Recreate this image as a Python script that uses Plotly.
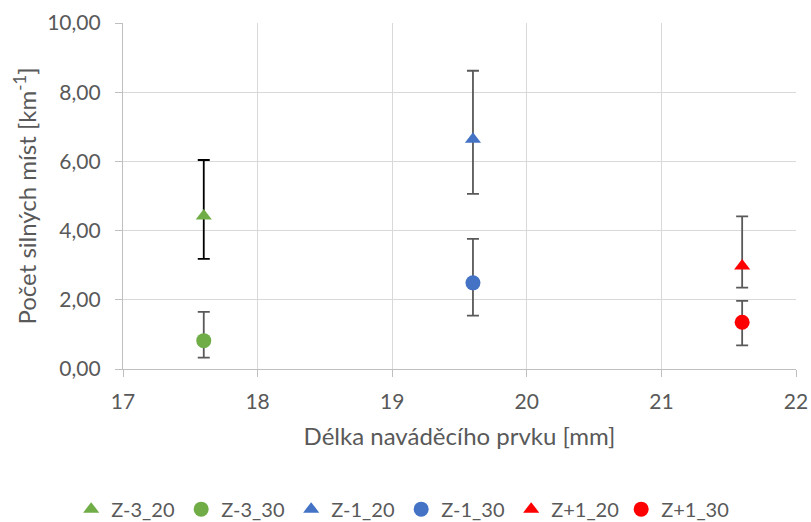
import plotly.graph_objects as go

names = ["Z-3_20", "Z-3_30", "Z-1_20", "Z-1_30", "Z+1_20", "Z+1_30"]
x_vals = [17.6, 17.6, 19.6, 19.6, 21.6, 21.6]
y_vals = [4.42, 0.82, 6.64, 2.49, 2.98, 1.35]
err_plus = [1.62, 0.83, 1.98, 1.27, 1.43, 0.62]
err_minus = [1.24, 0.49, 1.58, 0.95, 0.63, 0.67]
colors = ["#70AD47", "#70AD47", "#4472C4", "#4472C4", "#FF0000", "#FF0000"]
symbols = ["triangle-up", "circle", "triangle-up", "circle", "triangle-up", "circle"]
err_colors = ["#000000", "#595959", "#595959", "#595959", "#595959", "#595959"]

font_family = "Lato, 'Open Sans', sans-serif"
text_color = "#595959"

fig = go.Figure()
for i, n in enumerate(names):
    fig.add_trace(go.Scatter(
        x=[x_vals[i]], y=[y_vals[i]], name=n, mode="markers",
        marker=dict(color=colors[i], symbol=symbols[i], size=15 if symbols[i] == "circle" else 14),
        error_y=dict(type="data", symmetric=False, array=[err_plus[i]],
                     arrayminus=[err_minus[i]], color=err_colors[i], thickness=1.8, width=6),
    ))

fig.update_layout(
    width=811, height=522,
    margin=dict(l=123, r=15, t=23, b=153, autoexpand=False),
    paper_bgcolor="white", plot_bgcolor="white",
    separators=", ",
    font=dict(family=font_family, size=21, color=text_color),
    showlegend=True,
    legend=dict(orientation="h", x=-0.077, xanchor="left", y=-0.405, yanchor="middle",
                font=dict(size=20, color=text_color), itemwidth=30, tracegroupgap=0,
                entrywidth=65, entrywidthmode="pixels"),
    xaxis=dict(range=[17, 22], dtick=1, tick0=17, showgrid=True, gridcolor="#D9D9D9", gridwidth=1.3,
               showline=True, linecolor="#BFBFBF", linewidth=1.3, ticks="outside", ticklen=7,
               tickcolor="#BFBFBF", zeroline=False, tickfont=dict(size=21), ticklabelstandoff=7,
               title=dict(text="Délka naváděcího prvku [mm]", font=dict(size=24, color=text_color), standoff=15)),
    yaxis=dict(range=[0, 10], dtick=2, tickformat=".2f", showgrid=True, gridcolor="#D9D9D9", gridwidth=1.3,
               showline=True, linecolor="#BFBFBF", linewidth=1.3, ticks="outside", ticklen=7,
               tickcolor="#BFBFBF", zeroline=False, tickfont=dict(size=21), ticklabelstandoff=10,
               title=dict(text="Počet silných míst [km<sup>-1</sup>]", font=dict(size=24, color=text_color), standoff=3)),
)

fig.write_html("out.html", config={"displayModeBar": False},
               post_script="document.body.style.margin='0px';document.body.style.overflow='hidden';")
